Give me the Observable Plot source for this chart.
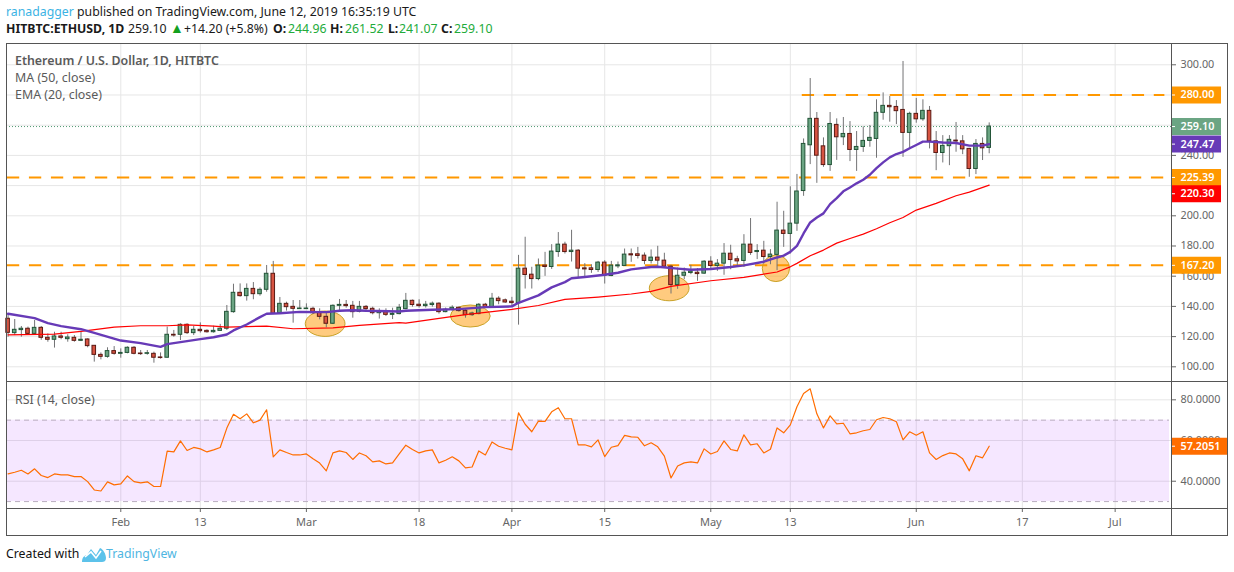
<!DOCTYPE html>
<html><head><meta charset="utf-8">
<script src="https://cdn.jsdelivr.net/npm/d3@7"></script>
<script src="https://cdn.jsdelivr.net/npm/@observablehq/plot@0.6"></script>
<style>
html,body{margin:0;padding:0;background:#fff;width:1234px;height:572px;overflow:hidden;font-family:"Noto Sans",sans-serif}
.abs{position:absolute;white-space:nowrap}
#h1{left:6px;top:3px;font-size:12.3px;line-height:18px;color:#1a1a1a}
.h2{top:20px;font-size:12.3px;line-height:18px;color:#1a1a1a}
.g{color:#22ab3a}.b{font-weight:700}
.leg{left:15px;font-size:12.4px;line-height:16px;color:#5a5a5a}
.sep{position:absolute;background:#555}
svg.pane{position:absolute;left:0;background:transparent;overflow:visible}
#foot{left:6px;top:545px;font-size:12.3px;line-height:18px;color:#111}
</style></head><body>
<div class="abs" id="h1"><span style="color:#3bb3e4">ranadagger</span> published on TradingView.com, June 12, 2019 16:35:19 UTC</div>
<span class="abs h2 b" style="left:6px">HITBTC:ETHUSD, 1D</span>
<span class="abs h2" style="left:128px">259.10</span>
<span class="abs h2" style="left:170px;top:19px;color:#14a01e;font-size:14px">&#9650;</span>
<span class="abs h2" style="left:184px">+14.20 (+5.8%)</span>
<span class="abs h2 b" style="left:273px">O:</span><span class="abs h2 g" style="left:288px">244.96</span>
<span class="abs h2 b" style="left:330px">H:</span><span class="abs h2 g" style="left:345px">261.52</span>
<span class="abs h2 b" style="left:388px">L:</span><span class="abs h2 g" style="left:399px">241.07</span>
<span class="abs h2 b" style="left:441px">C:</span><span class="abs h2 g" style="left:454px">259.10</span>
<div id="charts"></div>
<div class="abs leg" style="top:53px;font-weight:600">Ethereum / U.S. Dollar, 1D, HITBTC</div>
<div class="abs leg" style="top:70px">MA (50, close)</div>
<div class="abs leg" style="top:87px">EMA (20, close)</div>
<div class="abs leg" style="top:392px">RSI (14, close)</div>
<div class="sep" style="left:6px;top:43px;width:1222px;height:1px"></div>
<div class="sep" style="left:6px;top:535px;width:1222px;height:1px"></div>
<div class="sep" style="left:6px;top:43px;width:1px;height:492px"></div>
<div class="sep" style="left:1227px;top:43px;width:1px;height:492px"></div>
<div class="sep" style="left:1171px;top:43px;width:1px;height:492px"></div>
<div class="sep" style="left:6px;top:381px;width:1222px;height:1px"></div>
<div class="sep" style="left:6px;top:508px;width:1222px;height:1px"></div>
<div class="abs" id="foot">Created with</div>
<svg class="abs" style="left:82px;top:546px" width="24" height="16" viewBox="0 0 24 16"><path d="M0 16C0 11 3 9 5 9L9 3 14 9 18 2C21 3 24 8 24 12 24 15 22 16 20 16Z" fill="#5cc2ea"/><path d="M3 11L9 6 14 12 19 5" fill="none" stroke="#fff" stroke-width="1.6"/></svg>
<div class="abs" style="left:106px;top:545px;font-size:12.3px;line-height:18px;color:#4fb6e2">TradingView</div>
<script>
const opens = [131.8,122.3,124.3,125.2,121.8,125.8,119.2,117.9,120.1,118.3,119.2,117.2,118.1,113.9,107.9,106.6,110.4,108.6,109.2,112.6,108.8,108.6,108.6,106.2,106,121.2,121.2,127.8,122.3,124.5,123.8,122.9,123.8,125.2,136.2,149,146.8,151.6,148.1,151,161.6,135.5,141.7,139.7,138.2,138.2,138.4,135.7,133.1,128.5,140.4,141,140.4,136.4,139.7,138.4,135.5,136.2,134.4,134.9,
138.2,143.7,141.1,140.2,140.9,141.8,136.2,137.8,139.1,137.1,134.2,134.9,141.1,139.5,145.1,144,143.1,142.2,165,161,158.1,167,166.1,176,180.9,176,176.9,165.2,165.2,164.1,169,160.1,166.5,166.8,174.5,174.5,173.6,170.1,172.3,170.3,166.3,154.1,160.3,162.1,162.3,161.7,169.6,166.8,168.3,174.9,171.2,170.1,180.9,176,176.9,172.7,174.1,190.2,188,194.8,
216.4,246.7,264.2,246,233.6,260.2,252,254.2,243.6,245.6,249.6,250.9,268.2,272.8,272.1,270.1,254.9,267.5,263.9,269.5,249.3,241.6,246.1,249.8,249.3,244.3,231,247.6,244.96];
const highs = [135.1,131.3,126.7,126.3,130.7,126.7,121.8,122.9,122.9,121.2,120.7,122.9,118.5,114.1,109.2,112.6,113.4,111.9,113.2,113.4,110.8,110.8,109.7,109.2,126.3,124.1,128.5,128.5,126.7,129.1,124.5,126.9,128.1,140.6,154.7,154.9,154.9,155.8,152.3,167.1,169.8,145.9,142.8,143.9,143.9,141.7,139.5,138.4,136.2,141,144.6,143.9,143.3,143.3,140.6,139.5,138.4,138.4,138.8,141.3,
148.6,144.2,144.4,143.3,142.9,142.4,138.9,140.4,139.5,138.2,136.2,141.8,142,148.6,146.4,144.9,146,173.8,185.8,165.9,171.4,175.8,180.9,188.9,182.5,190.4,177.6,168.3,167.6,169.8,170.3,169.8,169.4,178,178,179.1,175.4,177.4,179.8,175.2,167.2,165.4,165.4,167.2,165,170.3,172.9,171,181.6,180.5,173.2,187.5,198.2,180.9,183.1,177.6,209,203,219.2,227.4,
250.9,290.9,268.4,251.6,268.4,264.2,265.1,262.4,255.8,258.9,259.8,276.8,281.4,279,276.3,302.2,268.6,277.7,276.8,272.4,255.8,253.1,253.1,261.8,253.1,244.7,250.5,251.6,261.52];
const lows = [119.6,120.7,119.6,121.2,121.4,117.6,116.3,112.4,117.9,116.3,116.3,116.7,112.6,103.1,104.6,105.7,107.7,105.7,108.6,107.9,107.5,107.7,102.4,105.1,105.8,119.6,117.4,121.4,120.7,122.3,122.3,122.3,123.4,124.1,135.5,146.1,143.5,144.4,146.8,149.4,134.6,135.1,136.9,128.9,138.2,138.2,134.6,131.1,125.8,128,137.3,138.8,132.2,135.7,137.3,134.4,131.6,133.3,131.3,134.4,
137.8,139.5,138.9,138.9,139.5,134.9,135.8,136.7,136.2,132.2,133.4,134.5,138.9,139.1,141.1,142,139.5,127.6,151.5,151.5,157,159.9,164.5,172.5,174.7,169.4,158.8,159.2,161.9,162.5,154.8,159.7,165,166.5,169.2,171.4,167.6,168.1,165.4,165.4,148.2,151.3,157.7,161,156.6,161.2,164.3,163.2,160.6,164.3,165.9,165.9,173.8,171,168.1,167.6,163.7,179.1,174.7,189.7,
212.9,233.9,221.5,232.1,229.4,236.7,246.5,235.9,229.4,242,245.4,238.1,263.3,262,260.4,238.7,243.8,261.3,262.6,244.3,229.9,235,233.2,242.1,240.5,225.5,227.3,236.6,241.07];
const closes = [122.5,124.5,125.2,121.8,125.8,119.2,117.9,120.1,119.2,119.4,117.2,117.9,113.7,107.9,106.6,110.4,108.6,109.2,112.6,108.6,108.4,109,106,105.8,121.2,120.7,127.8,122.3,124.5,123.6,122.9,123.8,125.2,136.4,149,146.8,151.6,148.1,151,161.6,135.1,141.7,139.5,138.4,138.6,138.6,135.5,133.1,128.5,140.4,141,140.2,136.2,139.7,138.2,135.5,136.9,134.4,135.1,139.1,
143.7,140.9,140.2,141.1,141.8,136.2,137.8,139.1,136.9,134.2,135.3,141.1,139.5,145.1,143.5,142.6,142.2,165,160.8,158.1,167,166.1,176.3,180.9,176,176.9,165,164.5,164.1,169,160.3,167,167.2,174.3,173.8,173.4,170.1,172.3,170.3,166.3,154.1,160.3,162.3,163,161.4,169.6,166.8,168.3,174.9,170.7,169.8,180.9,175.4,176.7,172.7,174.3,190.2,188,194.8,216.1,
247.6,264.2,239.8,233.6,260.8,252,254.2,243.6,245.6,249.6,251.6,268.2,272.8,271.9,269.3,254.9,267.5,263.9,269.5,249.3,241.6,246.3,250.3,249.2,244,231,247.6,244.7,259.1];
const rsi = [43.6,44.4,45.4,43.6,46.1,42.8,41.8,43.6,43.1,43.1,42.3,42.3,39.8,35.7,35.2,39.7,38.2,38.7,42.6,39.8,39.2,39.7,37.4,37.4,54.8,54.4,59.8,55.1,56.6,55.9,54.4,55.4,56.6,66.1,72.9,70.7,73.1,68.7,70,75.1,52,55.4,54.1,52.9,52.9,53.4,51,48.9,45.1,53.9,54.9,54.1,50.7,53.9,52.5,49.5,50,48.5,49,53.4,
57.7,55.6,53.9,54.9,55.4,49,50.3,52,50,46.6,47,54.9,52.9,59.3,57.2,56.2,55.4,73.6,68,64.3,69.5,69.4,74.1,76.1,70.7,70.7,57.9,57.9,56.9,60.3,52.1,56.7,57.5,62.5,61.8,61.6,57.4,58.9,56.9,52.3,41.6,47.5,49,49.5,49,55.9,53.4,54.6,59.8,55.6,54.9,62.8,57.9,58.4,53.9,55.7,66.2,63.8,67.7,76.6,83.1,85.4,73.1,66.2,72.1,68.2,68.5,63.3,63.8,64.8,65.4,70.2,71.3,70.7,69.2,60.3,64.3,62.6,64.3,53.9,50.7,52.6,53.9,53.4,51,45.1,52.5,51.5,57.2051];
const maDays = [-17,-13,-11,-9,-6,-4,0,3,6,7,10,12,14,16,17,19,21,22,24,27,31,33,35,37,42,43,47,51,55,59,60,63,65,67,68,70,73,75,77,80,81,84,86,89,92,94,97,99,100,101,102,103,104,105,106,107,108,109,110,111,112,113,114,115,116,117,118,119,120,121,122,124,126,128,130,131];
const maValues = [135.1,132.2,128.9,126.9,124.9,122.5,117.4,115.7,113.2,115,117,118.3,119.6,121.4,124.1,128,132.9,135.1,135.5,136.4,136.2,137.1,137.5,137.1,136.6,137.1,137.8,138.2,139.5,140,142.4,147.3,152.6,156.1,158.6,159.5,161,162.3,164.5,166.1,166.3,165,164.3,164.8,166.1,167.2,169.6,172.4,173.6,176.1,180.1,188.3,195.6,198.9,201.6,207.7,211.7,216.2,218.8,221.5,223.9,227.2,231.6,235.4,238.7,240.9,242.3,244.7,246.9,249.1,249.1,248.5,248.2,246.5,246.5,247.47];
const emaDays = [-17,-10,-6,-1,3,7,10,14,16,22,26,32,36,42,43,52,59,63,67,72,77,80,83,89,94,99,101,102,104,106,108,110,112,114,116,118,120,123,126,128,131];
const emaValues = [121.2,121.6,123.4,126.3,127.2,127.2,127.8,126.9,126.3,126.9,125.2,125.8,127.4,129.2,128.9,134.5,138,140.6,144.6,146.2,148.2,150,153.3,157,159.2,162.8,166.2,168.5,173.5,177.3,181.9,185,187.9,191.4,195.4,198.9,203.8,208.2,213.3,215.7,220.3];
const levelValues = [280,225.39,167.2];
const levelStartDays = [102.8,-17.1,-17.1];
const ellipseDays = [30.9,52.8,82.8,98.9];
const ellipsePrices = [128.2,133.3,151.7,164.9];
const ellipseRxDays = [3,3,3,2.06];
const ellipseRyPrices = [8.4,7.3,8.3,8.8];
const priceLabelTicks = [100,120,140,160,180,200,240,300];
const priceGrid = [100,120,140,160,180,200,220,240,260,280,300];
const rsiTicks = [40,60,80];
const rsiGrid = [40,60,80];
const tagValues = [280,259.1,247.47,225.39,220.3,167.2];
const tagAnchors = [280,259.1,247.47,225.39,214.6,167.2];
const tagColors = ["#ff9800","#6ba583","#673ab7","#ff9800","#ff0000","#ff9800"];
const dateTicks = ["2019-02-01","2019-02-13","2019-03-01","2019-03-18","2019-04-01","2019-04-15","2019-05-01","2019-05-13","2019-06-01","2019-06-17","2019-07-01"].map(d=>new Date(d));
const dateLabels = ["Feb","13","Mar","18","Apr","15","May","13","Jun","17","Jul"];

const DAY = 864e5, T0 = Date.UTC(2019,1,1);
const day = d => new Date(T0 + d*DAY);
const xDomain = [day(-17.24), day(158.5)];
const rightEdge = xDomain[1];
const tickEnd = day(158.5 + 4/6.63);
const tagEnd = day(158.5 + 50/6.63);
const rsiTagEnd = day(158.5 + 56/6.63);
const dates = opens.map((_,i)=>day(i-17));
const rows = dates.map((date,i)=>({date,o:opens[i],h:highs[i],l:lows[i],c:closes[i],
  a:new Date(+date-0.27*DAY),b:new Date(+date+0.27*DAY)}));
const up = rows.filter(r=>r.c>=r.o), dn = rows.filter(r=>r.c<r.o);
const ma = maDays.map((d,i)=>({date:day(d),v:maValues[i]}));
const ema = emaDays.map((d,i)=>({date:day(d),v:emaValues[i]}));
const rsiRows = rsi.map((v,i)=>({date:dates[i],v}));
const levels = levelValues.map((v,i)=>({v,x1:day(levelStartDays[i]),x2:day(157.5)}));
const tags = tagValues.map((v,i)=>({label:v.toFixed(2),y:tagAnchors[i],color:tagColors[i]}));
const ellipses = ellipseDays.map((d,i)=>({d,p:ellipsePrices[i],rx:ellipseRxDays[i],ry:ellipseRyPrices[i]}));
const GRID = "#e6e6e6", FONT = '"Noto Sans",sans-serif', AXFS = 10.8;

function ellipseMark(index,{x,y}){
  const g=d3.create("svg:g");
  for(const e of ellipses){
    g.append("ellipse").attr("cx",x(day(e.d))).attr("cy",y(e.p))
     .attr("rx",Math.abs(x(day(e.d+e.rx))-x(day(e.d)))).attr("ry",Math.abs(y(e.p+e.ry)-y(e.p)))
     .attr("fill","#ff9800").attr("fill-opacity",.5).attr("stroke","#c9a227").attr("stroke-width",1);
  }
  return g.node();
}
const candle=(data,fill,stroke)=>[
  Plot.ruleX(data,{x:"date",y1:"l",y2:"h",stroke:"#737375",strokeWidth:1}),
  Plot.rect(data,{x1:"a",x2:"b",y1:"o",y2:"c",fill,stroke,strokeWidth:1})
];
const price = Plot.plot({
  width:1234,height:381,marginLeft:6,marginRight:63,marginTop:43,marginBottom:1,
  style:{background:"transparent",fontFamily:FONT,overflow:"visible"},
  x:{type:"utc",domain:xDomain,axis:null},
  y:{domain:[90.93,314.1],axis:null},
  marks:[
    Plot.ruleX(dateTicks,{x:d=>d,stroke:GRID}),
    Plot.ruleY(priceGrid,{y:d=>d,stroke:GRID}),
    Plot.axisY(priceLabelTicks,{anchor:"right",label:null,tickSize:4,tickPadding:5,fontSize:AXFS,color:"#666",tickFormat:d=>d.toFixed(2)}),
    Plot.ruleY([259.1],{y:d=>d,stroke:"#4f9a72",strokeWidth:1,strokeDasharray:"1 2"}),
    Plot.ruleY(levels,{y:"v",x1:"x1",x2:"x2",stroke:"#ff9800",strokeWidth:2,strokeDasharray:"12.3 9.7"}),
    ellipseMark,
    ...candle(up,"#6ba583","#225437"),
    ...candle(dn,"#d75442","#5b1a13"),
    Plot.line(ema,{x:"date",y:"v",stroke:"#ff0000",strokeWidth:1.2,curve:"linear"}),
    Plot.line(ma,{x:"date",y:"v",stroke:"#673ab7",strokeWidth:2.4,curve:"linear"}),
    Plot.ruleY(tags,{y:"y",x1:()=>rightEdge,x2:()=>tagEnd,stroke:"color",strokeWidth:17}),
    Plot.ruleY(tags,{y:"y",x1:()=>rightEdge,x2:()=>tickEnd,stroke:"#fff",strokeWidth:1}),
    Plot.text(tags,{y:"y",x:()=>rightEdge,text:"label",dx:9,textAnchor:"start",fill:"#fff",fontSize:AXFS,fontWeight:600})
  ]
});
price.classList.add("pane"); price.style.top="0px";
const rsiPlot = Plot.plot({
  width:1234,height:154,marginLeft:6,marginRight:63,marginTop:0,marginBottom:27,
  style:{background:"transparent",fontFamily:FONT,overflow:"visible"},
  x:{type:"utc",domain:xDomain,axis:null},
  y:{domain:[26.6,89],axis:null},
  marks:[
    Plot.ruleX(dateTicks,{x:d=>d,stroke:GRID}),
    Plot.ruleY(rsiGrid,{y:d=>d,stroke:GRID}),
    Plot.rect([0],{x1:xDomain[0],x2:day(158.2),y1:30,y2:70,fill:"#9915ff",fillOpacity:.1}),
    Plot.ruleY([30,70],{y:d=>d,x1:xDomain[0],x2:day(158.2),stroke:"#b9adbf",strokeDasharray:"5 4"}),
    Plot.axisY(rsiTicks,{anchor:"right",label:null,tickSize:4,tickPadding:5,fontSize:AXFS,color:"#666",tickFormat:d=>d.toFixed(4)}),
    Plot.axisX(dateTicks,{anchor:"bottom",label:null,tickSize:4,tickPadding:6,fontSize:11,color:"#666",tickFormat:d=>dateLabels[dateTicks.findIndex(t=>+t===+d)]}),
    Plot.line(rsiRows,{x:"date",y:"v",stroke:"#ff6d00",strokeWidth:1.2,curve:"linear"}),
    Plot.ruleY([57.2051],{y:d=>d,x1:()=>rightEdge,x2:()=>rsiTagEnd,stroke:"#ff6d00",strokeWidth:17}),
    Plot.ruleY([57.2051],{y:d=>d,x1:()=>rightEdge,x2:()=>tickEnd,stroke:"#fff",strokeWidth:1}),
    Plot.text(["57.2051"],{y:()=>57.2051,x:()=>rightEdge,text:d=>d,dx:9,textAnchor:"start",fill:"#fff",fontSize:AXFS,fontWeight:600})
  ]
});
rsiPlot.classList.add("pane"); rsiPlot.style.top="381px";
document.getElementById("charts").append(price,rsiPlot);
</script>
</body></html>
